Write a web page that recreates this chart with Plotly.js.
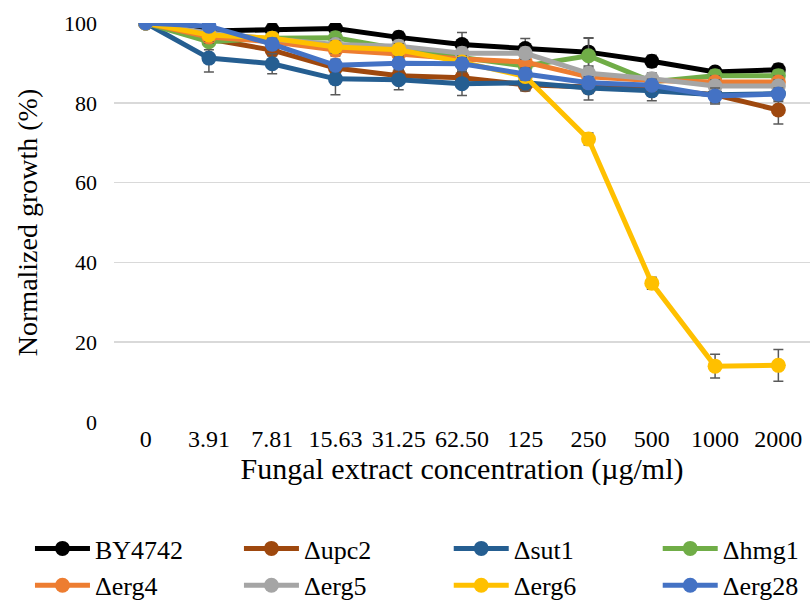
<!DOCTYPE html>
<html><head><meta charset="utf-8">
<script src="https://cdn.plot.ly/plotly-3.0.1.min.js"></script>
<style>html,body{margin:0;padding:0;background:#fff}#chart{width:810px;height:600px}</style>
</head><body><div id="chart"></div>
<script>
const categories = ["0","3.91","7.81","15.63","31.25","62.50","125","250","500","1000","2000"];
const seriesNames = ["BY4742","\u0394upc2","\u0394sut1","\u0394hmg1","\u0394erg4","\u0394erg5","\u0394erg6","\u0394erg28"];
const colors = ["#000000","#9e480e","#255e91","#70ad47","#ed7d31","#a5a5a5","#ffc000","#4472c4"];
const by4742 = [100,98.0,98.3,98.6,96.4,94.6,93.6,92.7,90.4,87.7,88.3];
const upc2   = [100,96.0,93.2,88.7,86.8,86.3,84.5,83.8,83.4,82.0,78.2];
const sut1   = [100,91.2,89.8,86.0,85.8,84.8,85.0,83.7,83.0,82.0,82.3];
const hmg1   = [100,95.3,96.2,96.3,93.5,91.2,89.2,91.8,85.3,86.8,86.8];
const erg4   = [100,96.5,95.3,93.2,92.2,91.0,90.2,86.5,85.6,85.2,85.2];
const erg5   = [100,97.5,96.0,94.6,94.2,92.4,92.4,87.4,86.0,84.2,84.2];
const erg6   = [100,97.0,96.2,94.0,93.3,90.2,86.6,70.9,34.8,14.0,14.2];
const erg28  = [100,99.2,94.7,89.4,89.9,89.8,87.2,85.0,84.4,81.7,82.2];
const errBY  = [0,1.0,1.5,1.5,1.5,3.0,2.5,3.5,1.5,1.0,1.5];
const errUpc = [0,1.5,1.5,1.5,1.5,2.0,1.5,1.5,1.5,1.5,3.5];
const errSut = [0,3.5,2.5,4.0,2.5,3.0,2.0,3.0,2.5,2.0,2.0];
const errHmg = [0,2.0,1.5,1.5,1.5,1.5,1.5,4.5,1.5,1.5,1.5];
const errE4  = [0,1.5,1.5,1.5,1.5,1.5,1.5,1.5,1.5,1.5,1.5];
const errE5  = [0,1.5,1.5,1.5,1.5,1.5,1.5,1.5,1.5,1.5,1.5];
const errE6  = [0,1.5,1.5,1.5,1.5,1.5,1.5,1.5,1.5,3.0,4.0];
const errE28 = [0,1.0,1.5,1.5,1.5,1.5,1.5,1.5,1.5,2.0,1.5];
const yTitle = 'Normalized growth (%)';
const xTitle = 'Fungal extract concentration (\u00b5g/ml)';
const values = [by4742,upc2,sut1,hmg1,erg4,erg5,erg6,erg28];
const errs = [errBY,errUpc,errSut,errHmg,errE4,errE5,errE6,errE28];
const legendIds = ['legend','legend2','legend3','legend4','legend','legend2','legend3','legend4'];

const traces = seriesNames.map((n,i)=>({
  type:'scatter', mode:'lines+markers', name:n, legend:legendIds[i],
  x:categories, y:values[i],
  line:{color:colors[i], width:5},
  marker:{color:colors[i], size:15},
  error_y:{type:'data', array:errs[i], visible:true, color:'#595959', thickness:1.5, width:5}
}));

const serif = "Liberation Serif";
function leg(x){
  return {orientation:'v', xref:'container', yref:'container', x:x, y:0.125, xanchor:'left', yanchor:'top',
          font:{family:serif, size:26, color:'#000'}, itemwidth:55, tracegroupgap:0, traceorder:'normal',
          bgcolor:'rgba(0,0,0,0)'};
}
const layout = {
  width:810, height:600,
  margin:{l:114, r:0, t:23, b:178, autoexpand:false},
  paper_bgcolor:'#fff', plot_bgcolor:'#fff',
  font:{family:serif, color:'#000', size:22},
  xaxis:{type:'category', range:[-0.5,10.5], showgrid:false, zeroline:false, showline:false,
         tickfont:{family:serif, size:24, color:'#000'}, ticks:'', ticklabelstandoff:0, tickangle:0,
         title:{text:xTitle, font:{family:serif, size:30, color:'#000'}, standoff:6}},
  yaxis:{range:[0,100], dtick:20, showgrid:true, gridcolor:'#d9d9d9', gridwidth:1.5, zeroline:false, showline:false,
         tickfont:{family:serif, size:22, color:'#000'}, ticks:'', ticklabelstandoff:16},
  annotations:[{text:yTitle, xref:'paper', yref:'paper', x:-0.124, y:0.5, xanchor:'center', yanchor:'middle',
                textangle:-90, showarrow:false, font:{family:serif, size:28, color:'#000'}}],
  showlegend:true,
  legend:leg(0.037), legend2:leg(0.295), legend3:leg(0.554), legend4:leg(0.812)
};
Plotly.newPlot('chart', traces, layout, {displayModeBar:false, staticPlot:true});
</script></body></html>
